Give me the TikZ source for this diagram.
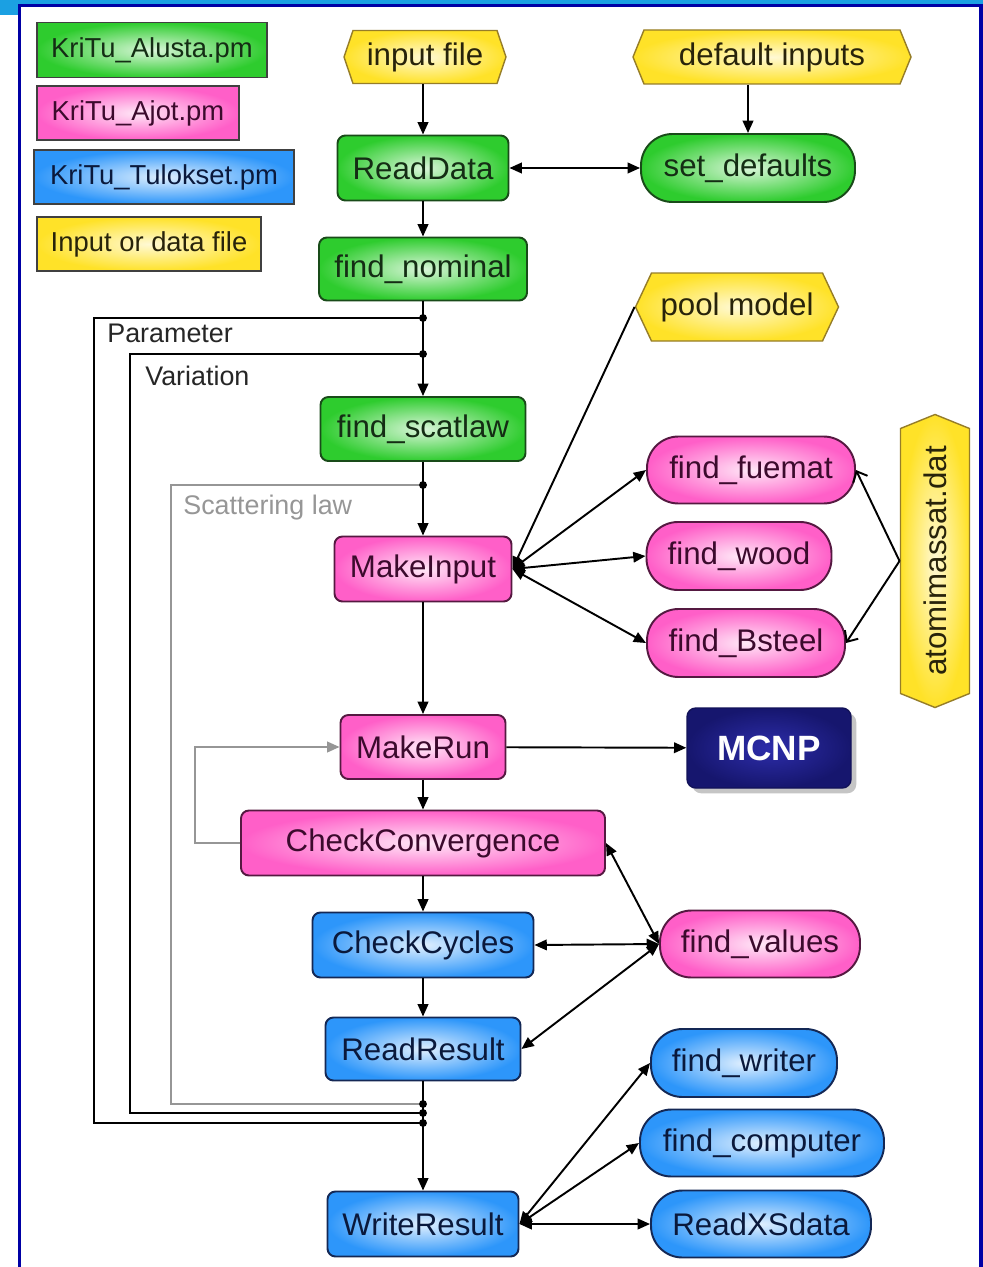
\documentclass[tikz,border=0pt]{standalone}
\usepackage{fontspec}
\setmainfont{Liberation Sans}
\usetikzlibrary{arrows.meta,shadows}
\definecolor{gbase}{RGB}{46,204,46}
\definecolor{gdark}{RGB}{25,75,25}
\definecolor{gtext}{RGB}{20,45,20}
\definecolor{pbase}{RGB}{255,95,200}
\definecolor{pdark}{RGB}{85,25,65}
\definecolor{ptext}{RGB}{60,10,45}
\definecolor{bbase}{RGB}{45,150,250}
\definecolor{bdark}{RGB}{20,40,85}
\definecolor{btext}{RGB}{10,25,60}
\definecolor{ybase}{RGB}{255,226,40}
\definecolor{ydark}{RGB}{150,125,40}
\definecolor{ytext}{RGB}{40,35,10}
\definecolor{navyin}{RGB}{45,45,170}
\definecolor{navyout}{RGB}{22,22,110}
\definecolor{frlight}{RGB}{27,160,226}
\definecolor{frdark}{RGB}{0,0,165}
\definecolor{loopgray}{RGB}{150,150,150}
\newcommand\mainf{\fontsize{17.8}{20}\selectfont}
\newcommand\legf{\fontsize{15.6}{18}\selectfont}
\newcommand\labf{\fontsize{15.3}{18}\selectfont}
\newcommand\mcnpf{\fontsize{20}{22}\selectfont\bfseries}
% horizontal hexagon: name, cx, cy, w, h, d, text
\newcommand\hexh[7]{%
  \path[yfill] ({#2-#4/2},#3) -- ({#2-#4/2+#6},{#3-#5/2}) -- ({#2+#4/2-#6},{#3-#5/2})
    -- ({#2+#4/2},#3) -- ({#2+#4/2-#6},{#3+#5/2}) -- ({#2-#4/2+#6},{#3+#5/2}) -- cycle;
  \node[nd, text=ytext, sz={#4}{#5}] (#1) at (#2,#3) {#7};}
% vertical hexagon
\newcommand\hexv[7]{%
  \path[yfill] (#2,{#3-#5/2}) -- ({#2+#4/2},{#3-#5/2+#6}) -- ({#2+#4/2},{#3+#5/2-#6})
    -- (#2,{#3+#5/2}) -- ({#2-#4/2},{#3+#5/2-#6}) -- ({#2-#4/2},{#3-#5/2+#6}) -- cycle;
  \node[nd, text=ytext, sz={#4}{#5}] (#1) at (#2,#3) {\rotatebox{90}{#7}};}
\begin{document}
\begin{tikzpicture}[x=0.02cm,y=-0.02cm,
  sz/.style 2 args={minimum width=#1*0.02cm,minimum height=#2*0.02cm},
  nd/.style={font=\mainf, inner sep=0pt, line width=1.1pt},
  rbox/.style={nd, rounded corners=4.5pt},
  stad/.style={nd, rounded corners=0.63cm},
  gfill/.style={draw=gdark, inner color=gbase!18!white, outer color=gbase, text=gtext},
  pfill/.style={draw=pdark, inner color=pbase!15!white, outer color=pbase, text=ptext},
  bfill/.style={draw=bdark, inner color=bbase!15!white, outer color=bbase, text=btext},
  yfill/.style={draw=ydark, line width=0.8pt, inner color=ybase!20!white, outer color=ybase},
  leg/.style={font=\legf, inner sep=0pt, line width=1.1pt},
  arr/.style={line width=1.1pt, -{Triangle[length=7pt,width=6pt]}},
  barr/.style={line width=1.1pt, {Triangle[length=7pt,width=6pt]}-{Triangle[length=7pt,width=6pt]}},
  oarr/.style={line width=1.1pt, -{Straight Barb[length=5pt,width=9pt]}},
  loopl/.style={line width=1.1pt},
  jdot/.style={fill, circle, inner sep=0pt, minimum size=4.5pt},
]
\useasboundingbox (0,0) rectangle (983,1267);
\fill[white] (0,0) rectangle (983,1267);
% frame
\fill[frlight] (0,0) rectangle (983,5);
\fill[frlight] (0,0) rectangle (18,15);
\fill[frdark] (18,4) rectangle (983,7);
\fill[frdark] (18,4) rectangle (21,1267);
\fill[frdark] (979,4) rectangle (983,1267);

% legend
\node[leg, gfill, draw=black!75, sz={230}{55}] (lg1) at (152,50) {KriTu\_Alusta.pm};
\node[leg, pfill, draw=black!75, sz={202}{54}] (lg2) at (138,113) {KriTu\_Ajot.pm};
\node[leg, bfill, draw=black!75, sz={260}{54}] (lg3) at (164,177) {KriTu\_Tulokset.pm};
\node[leg, yfill, draw=black!75, line width=1.1pt, text=ytext, sz={224}{54}] (lg4) at (149,244) {Input or data file};

% data files
\hexh{in}{425}{57}{162}{53}{9}{input file}
\hexh{def}{772}{57}{278}{54}{11}{default inputs}
\hexh{pool}{737}{307}{203}{68}{16}{pool model}
\hexv{atom}{935}{561}{69}{293}{14}{atomimassat.dat}

% main column
\node[rbox, gfill, sz={171}{65}] (rd) at (423,168) {ReadData};
\node[stad, gfill, sz={214}{68}] (sd) at (748,168) {set\_defaults};
\node[rbox, gfill, sz={208}{63}] (fn) at (423,269) {find\_nominal};
\node[rbox, gfill, sz={205}{64}] (fs) at (423,429) {find\_scatlaw};
\node[rbox, pfill, sz={177}{65}] (mi) at (423,569) {MakeInput};
\node[stad, pfill, sz={208}{67}] (ff) at (751,470) {find\_fuemat};
\node[stad, pfill, sz={185}{68}] (fw) at (739,556) {find\_wood};
\node[stad, pfill, sz={198}{68}] (fb) at (746,643) {find\_Bsteel};
\node[rbox, pfill, sz={165}{64}] (mr) at (423,747) {MakeRun};
\node[rbox, draw=navyout!80!black, inner color=navyin, outer color=navyout, text=white, font=\mcnpf,
      inner sep=0pt, line width=0.8pt, rounded corners=5pt, sz={164}{80},
      drop shadow={opacity=0.45, shadow xshift=3pt, shadow yshift=-3pt}] (mcnp) at (769,748) {MCNP};
\node[rbox, pfill, sz={364}{65}] (cc) at (423,843) {CheckConvergence};
\node[rbox, bfill, sz={221}{65}] (ccy) at (423,945) {CheckCycles};
\node[stad, pfill, sz={200}{67}] (fv) at (760,944) {find\_values};
\node[rbox, bfill, sz={195}{63}] (rr) at (423,1049) {ReadResult};
\node[stad, bfill, sz={186}{68}] (fwr) at (744,1063) {find\_writer};
\node[stad, bfill, sz={244}{67}] (fc) at (762,1143) {find\_computer};
\node[stad, bfill, sz={220}{67}] (rx) at (761,1224) {ReadXSdata};
\node[rbox, bfill, sz={191}{65}] (wr) at (423,1224) {WriteResult};

% loop labels
\node[font=\labf, anchor=west, inner sep=0pt, text=black!85] (lpar) at (107,333) {Parameter};
\node[font=\labf, anchor=west, inner sep=0pt, text=black!85] (lvar) at (145,376) {Variation};
\node[font=\labf, anchor=west, inner sep=0pt, text=loopgray] (lsc) at (183,508) {Scattering law};

% junctions
\coordinate (j1) at (423,318);
\coordinate (j2) at (423,354);
\coordinate (j3) at (423,485);
\coordinate (j4) at (423,1104);
\coordinate (j5) at (423,1113);
\coordinate (j6) at (423,1123);

% loops
\draw[loopl] (j1) -- (94,318) -- (94,1123) -- (j6);
\draw[loopl] (j2) -- (130,354) -- (130,1113) -- (j5);
\draw[loopl, loopgray] (j3) -- (171,485) -- (171,1104) -- (j4);
\draw[loopl, loopgray, -{Triangle[length=7pt,width=6pt]}] (cc.west) -- (195,843) -- (195,747) -- (mr.west);

% connectors
\draw[arr] (rd.north |- in.south) -- (rd.north);
\draw[arr] (sd.north |- def.south) -- (sd.north);
\draw[barr] (rd) -- (sd);
\draw[arr] (rd) -- (fn);
\draw[arr] (fn) -- (fs);
\draw[arr] (fs) -- (mi);
\draw[arr] (mi) -- (mr);
\draw[arr] (mr) -- (mcnp);
\draw[arr] (mr) -- (cc);
\draw[arr] (cc) -- (ccy);
\draw[arr] (ccy) -- (rr);
\draw[arr] (rr) -- (wr);
\draw[arr] (pool.west) -- (mi.east);
\draw[barr] (mi.east) -- (ff.west);
\draw[barr] (mi.east) -- (fw.west);
\draw[barr] (mi.east) -- (fb.west);
\draw[oarr] (atom.west) -- (ff.east);
\draw[oarr] (atom.west) -- (fb.east);
\draw[barr] (cc.east) -- (fv.west);
\draw[barr] (ccy.east) -- (fv.west);
\draw[barr] (rr.east) -- (fv.west);
\draw[barr] (wr.east) -- (fwr.west);
\draw[barr] (wr.east) -- (fc.west);
\draw[barr] (wr.east) -- (rx.west);

\foreach \j in {j1,j2,j3,j4,j5,j6} \node[jdot] at (\j) {};
\end{tikzpicture}
\end{document}
